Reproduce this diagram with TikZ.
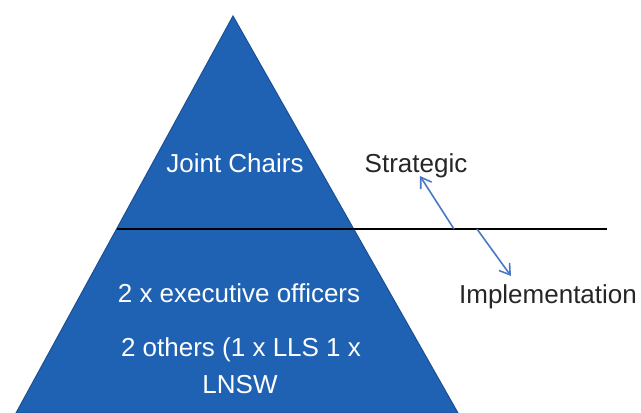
\documentclass[tikz,border=0pt]{standalone}
\usepackage{fontspec}
\setmainfont{Liberation Sans}
\usetikzlibrary{arrows.meta}
\definecolor{pyr}{HTML}{1F62B3}
\definecolor{pyredge}{HTML}{1A4F94}
\definecolor{arr}{HTML}{4A78C8}
\tikzset{
  intext/.style={text=white, font=\fontsize{26}{30}\selectfont, inner sep=0pt, anchor=base},
  outtext/.style={text=black!85, font=\fontsize{26}{30}\selectfont, inner sep=0pt, anchor=base},
  linkarrow/.style={draw=arr, line width=1.6pt, -{Straight Barb[length=10pt,width=13pt,line width=1.6pt]}}
}
\begin{document}
\begin{tikzpicture}[x=1pt,y=-1pt]
\useasboundingbox (0,0) rectangle (641,413);
\fill[white] (0,0) rectangle (641,413);
\begin{scope}
\clip (0,0) rectangle (641,413);
\filldraw[fill=pyr, draw=pyredge, line width=1pt] (233,16) -- (458,413) -- (16,413) -- cycle;
\end{scope}
\draw[black, line width=1.8pt] (117,229) coordinate (L0) -- (607,229) coordinate (L1);
\node[intext] (jc) at (235,172) {Joint Chairs};
\node[intext] (eo) at (239,302) {2 x executive officers};
\node[intext] (ot) at (241,356) {2 others (1 x LLS 1 x};
\node[intext] (ln) at (240,393) {LNSW};
\node[outtext] (st) at (416,172) {Strategic};
\node[outtext] (im) at (548,303) {Implementation};
\coordinate (sa) at (454,229);
\coordinate (sb) at (420,176);
\coordinate (ia) at (477,229);
\coordinate (ib) at (511,276);
\draw[linkarrow] (sa) -- (sb);
\draw[linkarrow] (ia) -- (ib);
\end{tikzpicture}
\end{document}
